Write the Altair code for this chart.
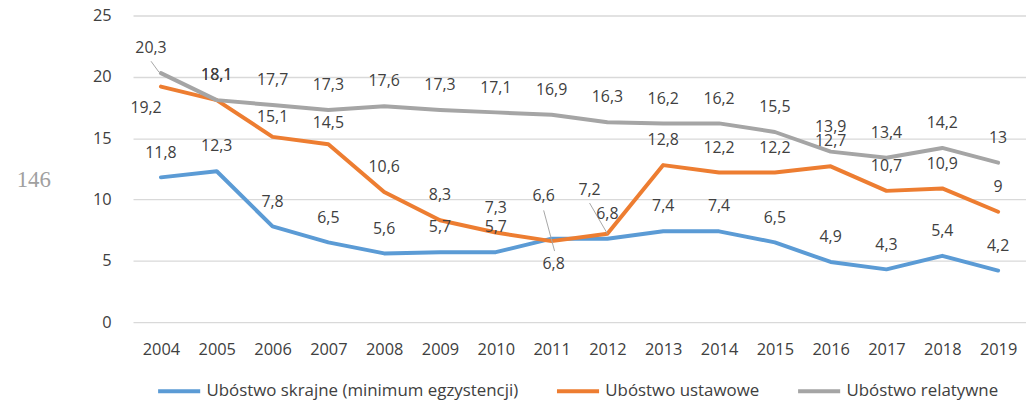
import altair as alt
import pandas as pd

# ---- data ----
years = list(range(2004, 2020))
series_names = ["Ubóstwo skrajne (minimum egzystencji)", "Ubóstwo ustawowe", "Ubóstwo relatywne"]
skrajne = [11.8, 12.3, 7.8, 6.5, 5.6, 5.7, 5.7, 6.8, 6.8, 7.4, 7.4, 6.5, 4.9, 4.3, 5.4, 4.2]
ustawowe = [19.2, 18.1, 15.1, 14.5, 10.6, 8.3, 7.3, 6.6, 7.2, 12.8, 12.2, 12.2, 12.7, 10.7, 10.9, 9]
relatywne = [20.3, 18.1, 17.7, 17.3, 17.6, 17.3, 17.1, 16.9, 16.3, 16.2, 16.2, 15.5, 13.9, 13.4, 14.2, 13]
y_ticks = [0, 5, 10, 15, 20, 25]
colors = ["#5B9BD5", "#ED7D31", "#A5A5A5"]
page_number = "146"

FONT = "Open Sans"
TXT = "#404040"

# ---- label placement (pixel offsets, style only) ----
default_place = (0, -25)
special_place = {
    (2, 2004): (-10, -25),
    (1, 2004): (-15, 22),
    (1, 2006): (0, -20),
    (1, 2007): (0, -21),
    (1, 2011): (-8, -45),
    (0, 2011): (2, 26),
    (1, 2012): (-18, -44),
}
# leader lines: (series index, year): (xOffset, yOffset, x2Offset, y2Offset)
leaders = {
    (2, 2004): (-10, -12, -2, -1),
    (1, 2011): (-8, -31, 3, 10),
    (1, 2012): (-18, -31, 0, 0),
}

rows = []
for si, (name, vals) in enumerate(zip(series_names, [skrajne, ustawowe, relatywne])):
    for yr, v in zip(years, vals):
        dx, dy = special_place.get((si, yr), default_place)
        rows.append({
            "year": yr, "value": v, "series": name,
            "label": f"{v:g}".replace(".", ","),
            "place": f"{dx}_{dy}",
            "key": f"{si}_{yr}",
        })
df = pd.DataFrame(rows)

x_enc = alt.X(
    "year:O",
    scale=alt.Scale(type="point", padding=0.5),
    axis=alt.Axis(title=None, labelAngle=0, domain=False, ticks=False, grid=False,
                  labelPadding=20, labelFontSize=16.5, labelFont=FONT, labelColor=TXT),
)
y_enc = alt.Y(
    "value:Q",
    scale=alt.Scale(domain=[0, 25], nice=False, zero=True),
    axis=alt.Axis(title=None, values=y_ticks, domain=False, ticks=False, grid=True,
                  gridColor="#d9d9d9", gridWidth=1.3, labelPadding=22,
                  labelFontSize=16.5, labelFont=FONT, labelColor=TXT),
)
color_enc = alt.Color(
    "series:N",
    scale=alt.Scale(domain=series_names, range=colors),
    legend=alt.Legend(
        title=None, orient="none", legendX=23, legendY=355, direction="horizontal",
        symbolType="stroke", symbolSize=1800, symbolStrokeWidth=4,
        labelFontSize=17, labelFont=FONT, labelColor=TXT, labelLimit=0,
        columnPadding=30, labelOffset=4,
    ),
)

base = alt.Chart(df)
layers = []
for name in series_names:
    layers.append(
        base.transform_filter(alt.datum.series == name)
        .mark_line(strokeWidth=4, strokeCap="round", strokeJoin="round")
        .encode(x=x_enc, y=y_enc, color=color_enc)
    )

for (si, yr), (xo, yo, x2o, y2o) in leaders.items():
    layers.append(
        base.transform_filter(alt.datum.key == f"{si}_{yr}")
        .mark_rule(color="#a6a6a6", strokeWidth=1, xOffset=xo, yOffset=yo,
                   x2Offset=x2o, y2Offset=y2o)
        .encode(x=x_enc, y=y_enc, x2="year:O", y2="value:Q")
    )

for place in df["place"].unique():
    dx, dy = (int(p) for p in place.split("_"))
    layers.append(
        base.transform_filter(alt.datum.place == place)
        .mark_text(dx=dx, dy=dy, fontSize=16, font=FONT, color=TXT,
                   align="center", baseline="middle")
        .encode(x=x_enc, y=y_enc, text="label:N")
    )

page = alt.Chart(pd.DataFrame({"t": [page_number]})).mark_text(
    font="Liberation Serif", fontSize=23, color="#a0a0a0", align="center", baseline="middle"
).encode(x=alt.value(-100), y=alt.value(166), text="t:N")
layers.append(page)

chart = alt.layer(*layers).properties(
    width=900, height=309,
    autosize=alt.AutoSizeParams(type="none"),
    padding={"left": 126, "top": 6, "right": 0, "bottom": 80},
).configure_view(stroke=None)

chart.save("out.html", embed_options={"renderer": "svg", "actions": False})
